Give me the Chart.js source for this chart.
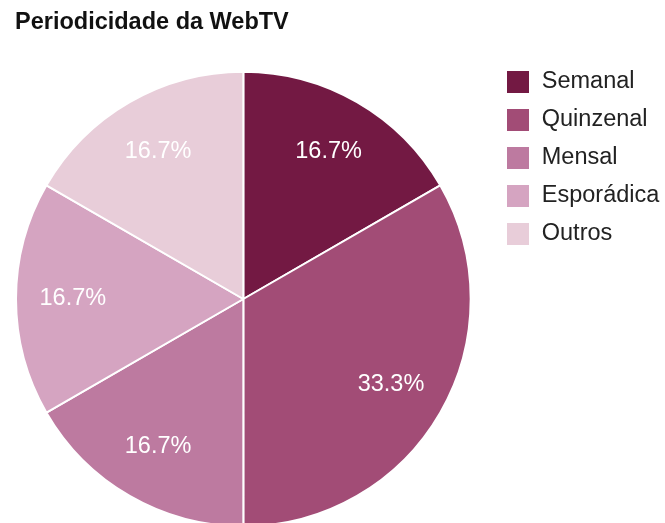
<!DOCTYPE html>
<html lang="pt">
<head>
    <meta charset="UTF-8">
    <title>Periodicidade da WebTV</title>
    <script src="https://cdn.jsdelivr.net/npm/chart.js"></script>
    <style>
        html, body { margin: 0; padding: 0; background: #fff; overflow: hidden; }
        #wrap { position: absolute; left: 0; top: 0; width: 665px; height: 528px; }
    </style>
</head>
<body>
    <div id="wrap"><canvas id="pie"></canvas></div>

    <script>
        // chart data
        const categories = ['Semanal', 'Quinzenal', 'Mensal', 'Esporádica', 'Outros'];
        const counts = [1, 2, 1, 1, 1];
        const sliceColors = ['#731943', '#a24c76', '#bd7aa0', '#d5a4c1', '#e8cdd9'];

        const FONT = '"Liberation Sans", Arial, Helvetica, sans-serif';

        // percentage labels inside each slice
        const sliceLabels = {
            id: 'sliceLabels',
            afterDatasetsDraw(chart) {
                const ctx = chart.ctx;
                const meta = chart.getDatasetMeta(0);
                const total = counts.reduce((a, b) => a + b, 0);
                ctx.save();
                ctx.font = '23.5px ' + FONT;
                ctx.fillStyle = '#fff';
                ctx.textAlign = 'center';
                ctx.textBaseline = 'middle';
                meta.data.forEach((arc, i) => {
                    const p = arc.getProps(['x', 'y', 'startAngle', 'endAngle', 'outerRadius']);
                    const mid = (p.startAngle + p.endAngle) / 2;
                    const r = p.outerRadius * 0.75;
                    const pct = (counts[i] / total * 100).toFixed(1) + '%';
                    ctx.fillText(pct, p.x + Math.cos(mid) * r, p.y + Math.sin(mid) * r);
                });
                ctx.restore();
            }
        };

        // put the legend where the original has it
        const legendSpot = {
            id: 'legendSpot',
            afterLayout(chart) {
                const lg = chart.legend;
                const dx = 492 - lg.left, dy = 56 - lg.top;
                lg.left += dx; lg.right += dx;
                lg.top += dy; lg.bottom += dy;
            }
        };

        new Chart(document.getElementById('pie'), {
            type: 'pie',
            data: {
                labels: categories,
                datasets: [{
                    data: counts,
                    backgroundColor: sliceColors,
                    borderColor: '#fff',
                    borderWidth: 2
                }]
            },
            options: {
                responsive: true,
                maintainAspectRatio: false,
                animation: false,
                layout: { padding: { left: 15, right: 16, top: 0, bottom: 0 } },
                plugins: {
                    title: {
                        display: true,
                        text: 'Periodicidade da WebTV',
                        align: 'start',
                        color: '#111',
                        font: { family: FONT, size: 23.5, weight: 'bold' },
                        padding: { top: 8, bottom: 33.8 }
                    },
                    legend: {
                        position: 'right',
                        align: 'start',
                        labels: {
                            color: '#222',
                            font: { family: FONT, size: 23.5 },
                            boxWidth: 24,
                            boxHeight: 24,
                            padding: 14
                        }
                    },
                    tooltip: { enabled: false }
                }
            },
            plugins: [sliceLabels, legendSpot]
        });
    </script>
</body>
</html>
